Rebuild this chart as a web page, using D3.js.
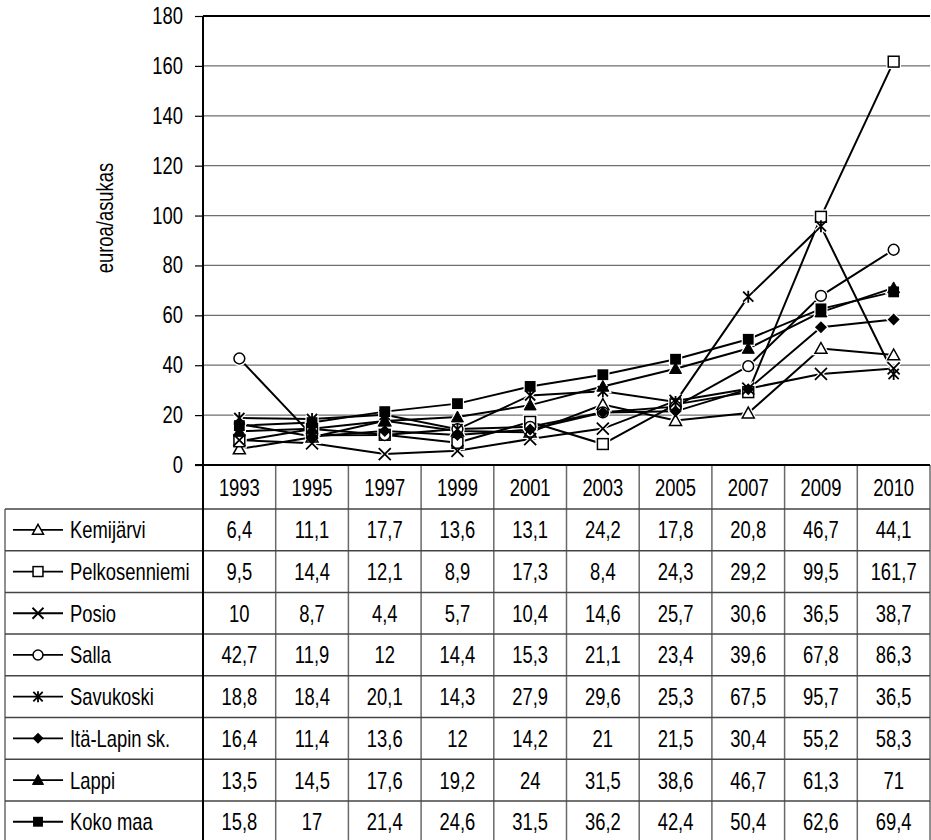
<!DOCTYPE html>
<html>
<head>
<meta charset="utf-8">
<script src="https://cdn.jsdelivr.net/npm/d3@7"></script>
<style>
  html, body { margin: 0; padding: 0; background: #fff; }
  svg text { font-family: "Liberation Sans", Arial, sans-serif; fill: #000; }
</style>
</head>
<body>
<svg id="chart" width="931" height="840"></svg>
<script>
const years = ["1993","1995","1997","1999","2001","2003","2005","2007","2009","2010"];
const yTicks = [0,20,40,60,80,100,120,140,160,180];
const yLabel = "euroa/asukas";

const seriesNames = ["Kemijärvi","Pelkosenniemi","Posio","Salla","Savukoski","Itä-Lapin sk.","Lappi","Koko maa"];
const markerTypes = ["triangleOpen","squareOpen","cross","circleOpen","asterisk","diamond","triangle","square"];

const kemijarvi    = [6.4, 11.1, 17.7, 13.6, 13.1, 24.2, 17.8, 20.8, 46.7, 44.1];
const pelkosenniemi= [9.5, 14.4, 12.1, 8.9, 17.3, 8.4, 24.3, 29.2, 99.5, 161.7];
const posio        = [10, 8.7, 4.4, 5.7, 10.4, 14.6, 25.7, 30.6, 36.5, 38.7];
const salla        = [42.7, 11.9, 12, 14.4, 15.3, 21.1, 23.4, 39.6, 67.8, 86.3];
const savukoski    = [18.8, 18.4, 20.1, 14.3, 27.9, 29.6, 25.3, 67.5, 95.7, 36.5];
const itaLappi     = [16.4, 11.4, 13.6, 12, 14.2, 21, 21.5, 30.4, 55.2, 58.3];
const lappi        = [13.5, 14.5, 17.6, 19.2, 24, 31.5, 38.6, 46.7, 61.3, 71];
const kokoMaa      = [15.8, 17, 21.4, 24.6, 31.5, 36.2, 42.4, 50.4, 62.6, 69.4];

const seriesValues = [kemijarvi, pelkosenniemi, posio, salla, savukoski, itaLappi, lappi, kokoMaa];

const svg = d3.select("#chart");
const plotLeft = 203, plotRight = 930, plotTop = 16, plotBottom = 465;
const headerBottom = 509, rowH = 41.7, tableLeft = 5;
const fs = 23, sx = 0.8;

function addText(parent, tx, ty, str, anchor, rot) {
  const g = parent.append("g").attr("transform", `translate(${tx},${ty})${rot ? " rotate(" + rot + ")" : ""} scale(${sx},1)`);
  g.append("text").attr("text-anchor", anchor || "start").attr("font-size", fs).text(str);
  return g;
}

const x = d3.scaleBand().domain(years).range([plotLeft, plotRight]).padding(0);
const y = d3.scaleLinear().domain([0, 180]).range([plotBottom, plotTop]);
const cx = d => x(d) + x.bandwidth() / 2;

// gridlines
svg.append("g").selectAll("line").data(yTicks.filter(t => t > 0 && t < 180)).join("line")
  .attr("x1", plotLeft).attr("x2", plotRight)
  .attr("y1", d => y(d)).attr("y2", d => y(d))
  .attr("stroke", "#6e6e6e").attr("stroke-width", 1.2);

// y axis ticks
const yAxis = d3.axisLeft(y).tickValues(yTicks).tickSize(8).tickFormat("");
const ya = svg.append("g").attr("transform", `translate(${plotLeft},0)`).call(yAxis);
ya.select(".domain").remove();
ya.selectAll(".tick line").attr("stroke", "#000").attr("stroke-width", 1.2);
const yLabG = svg.append("g");
yTicks.forEach(t => addText(yLabG, 183, y(t) + 8, String(t), "end"));

// top border
svg.append("line").attr("x1", plotLeft).attr("x2", plotRight).attr("y1", y(180)).attr("y2", y(180))
  .attr("stroke", "#000").attr("stroke-width", 2);

addText(svg, 113, 218, yLabel, "middle", -90);

// table grid
const nRows = seriesNames.length;
const tableBottom = headerBottom + rowH * nRows;
const grid = svg.append("g");
const bounds = years.map(d => x(d)).concat([plotRight]);
grid.selectAll("line.v").data(bounds.slice(1)).join("line")
  .attr("x1", d => d).attr("x2", d => d)
  .attr("y1", plotBottom).attr("y2", tableBottom)
  .attr("stroke", "#6a6a6a").attr("stroke-width", 1.5);
grid.append("line").attr("x1", tableLeft).attr("x2", tableLeft)
  .attr("y1", headerBottom).attr("y2", tableBottom)
  .attr("stroke", "#6a6a6a").attr("stroke-width", 1.5);
grid.selectAll("line.h").data(d3.range(nRows + 1)).join("line")
  .attr("x1", tableLeft).attr("x2", plotRight)
  .attr("y1", i => headerBottom + i * rowH).attr("y2", i => headerBottom + i * rowH)
  .attr("stroke", "#444").attr("stroke-width", 1.5);

// axis lines
svg.append("line").attr("x1", plotLeft).attr("x2", plotLeft).attr("y1", plotTop).attr("y2", tableBottom)
  .attr("stroke", "#000").attr("stroke-width", 2);
svg.append("line").attr("x1", plotLeft - 8).attr("x2", plotRight).attr("y1", plotBottom).attr("y2", plotBottom)
  .attr("stroke", "#000").attr("stroke-width", 2);

// header year labels
const hdr = svg.append("g");
years.forEach(d => addText(hdr, cx(d), (plotBottom + headerBottom) / 2 + 8.5, d, "middle"));

// markers
function drawMarker(g, type, s, halo) {
  const h = s / 2;
  const sw = halo ? 2.5 : 0;
  const stroke = halo ? "#fff" : "#000";
  const fillOpen = "#fff", fillSolid = halo ? "#fff" : "#000";
  switch (type) {
    case "triangleOpen":
      g.append("path").attr("d", `M0,${-h}L${h},${h * 0.8}L${-h},${h * 0.8}Z`).attr("fill", fillOpen).attr("stroke", stroke).attr("stroke-width", 1.5 + sw); break;
    case "triangle":
      g.append("path").attr("d", `M0,${-h}L${h},${h * 0.8}L${-h},${h * 0.8}Z`).attr("fill", fillSolid).attr("stroke", stroke).attr("stroke-width", 1 + sw); break;
    case "squareOpen":
      g.append("rect").attr("x", -h * 0.9).attr("y", -h * 0.9).attr("width", h * 1.8).attr("height", h * 1.8).attr("fill", fillOpen).attr("stroke", stroke).attr("stroke-width", 1.5 + sw); break;
    case "square":
      g.append("rect").attr("x", -h * 0.9).attr("y", -h * 0.9).attr("width", h * 1.8).attr("height", h * 1.8).attr("fill", fillSolid).attr("stroke", stroke).attr("stroke-width", sw); break;
    case "circleOpen":
      g.append("circle").attr("r", h * 0.9).attr("fill", fillOpen).attr("stroke", stroke).attr("stroke-width", 1.5 + sw); break;
    case "diamond":
      g.append("path").attr("d", `M0,${-h}L${h},0L0,${h}L${-h},0Z`).attr("fill", fillSolid).attr("stroke", stroke).attr("stroke-width", sw); break;
    case "cross":
      g.append("path").attr("d", `M${-h},${-h}L${h},${h}M${h},${-h}L${-h},${h}`).attr("stroke", stroke).attr("stroke-width", 1.8 + sw).attr("fill", "none"); break;
    case "asterisk":
      g.append("path").attr("d", `M${-h * 0.85},${-h * 0.85}L${h * 0.85},${h * 0.85}M${h * 0.85},${-h * 0.85}L${-h * 0.85},${h * 0.85}M0,${-h}L0,${h}`).attr("stroke", stroke).attr("stroke-width", 1.8 + sw).attr("fill", "none"); break;
  }
}

const line = d3.line().x((d, i) => cx(years[i])).y(d => y(d));
const linesG = svg.append("g");
seriesValues.forEach(vals => {
  linesG.append("path").datum(vals).attr("d", line)
    .attr("fill", "none").attr("stroke", "#000").attr("stroke-width", 2);
});
const haloG = svg.append("g");
const markG = svg.append("g");
seriesValues.forEach((vals, si) => {
  vals.forEach((v, i) => {
    const t = `translate(${cx(years[i])},${y(v)})`;
    drawMarker(haloG.append("g").attr("transform", t), markerTypes[si], 12, true);
    drawMarker(markG.append("g").attr("transform", t), markerTypes[si], 12, false);
  });
});

// table rows
seriesNames.forEach((name, si) => {
  const rowTop = headerBottom + si * rowH;
  const mid = rowTop + rowH / 2;
  svg.append("line").attr("x1", 13).attr("x2", 63).attr("y1", mid).attr("y2", mid)
    .attr("stroke", "#000").attr("stroke-width", 1.8);
  const g = svg.append("g").attr("transform", `translate(38,${mid})`);
  drawMarker(g, markerTypes[si], 11, false);
  addText(svg, 70, mid + 8.5, name, "start");
  const rg = svg.append("g");
  seriesValues[si].forEach((v, i) => addText(rg, cx(years[i]), mid + 8.5, String(v).replace(".", ","), "middle"));
});
</script>
</body>
</html>
